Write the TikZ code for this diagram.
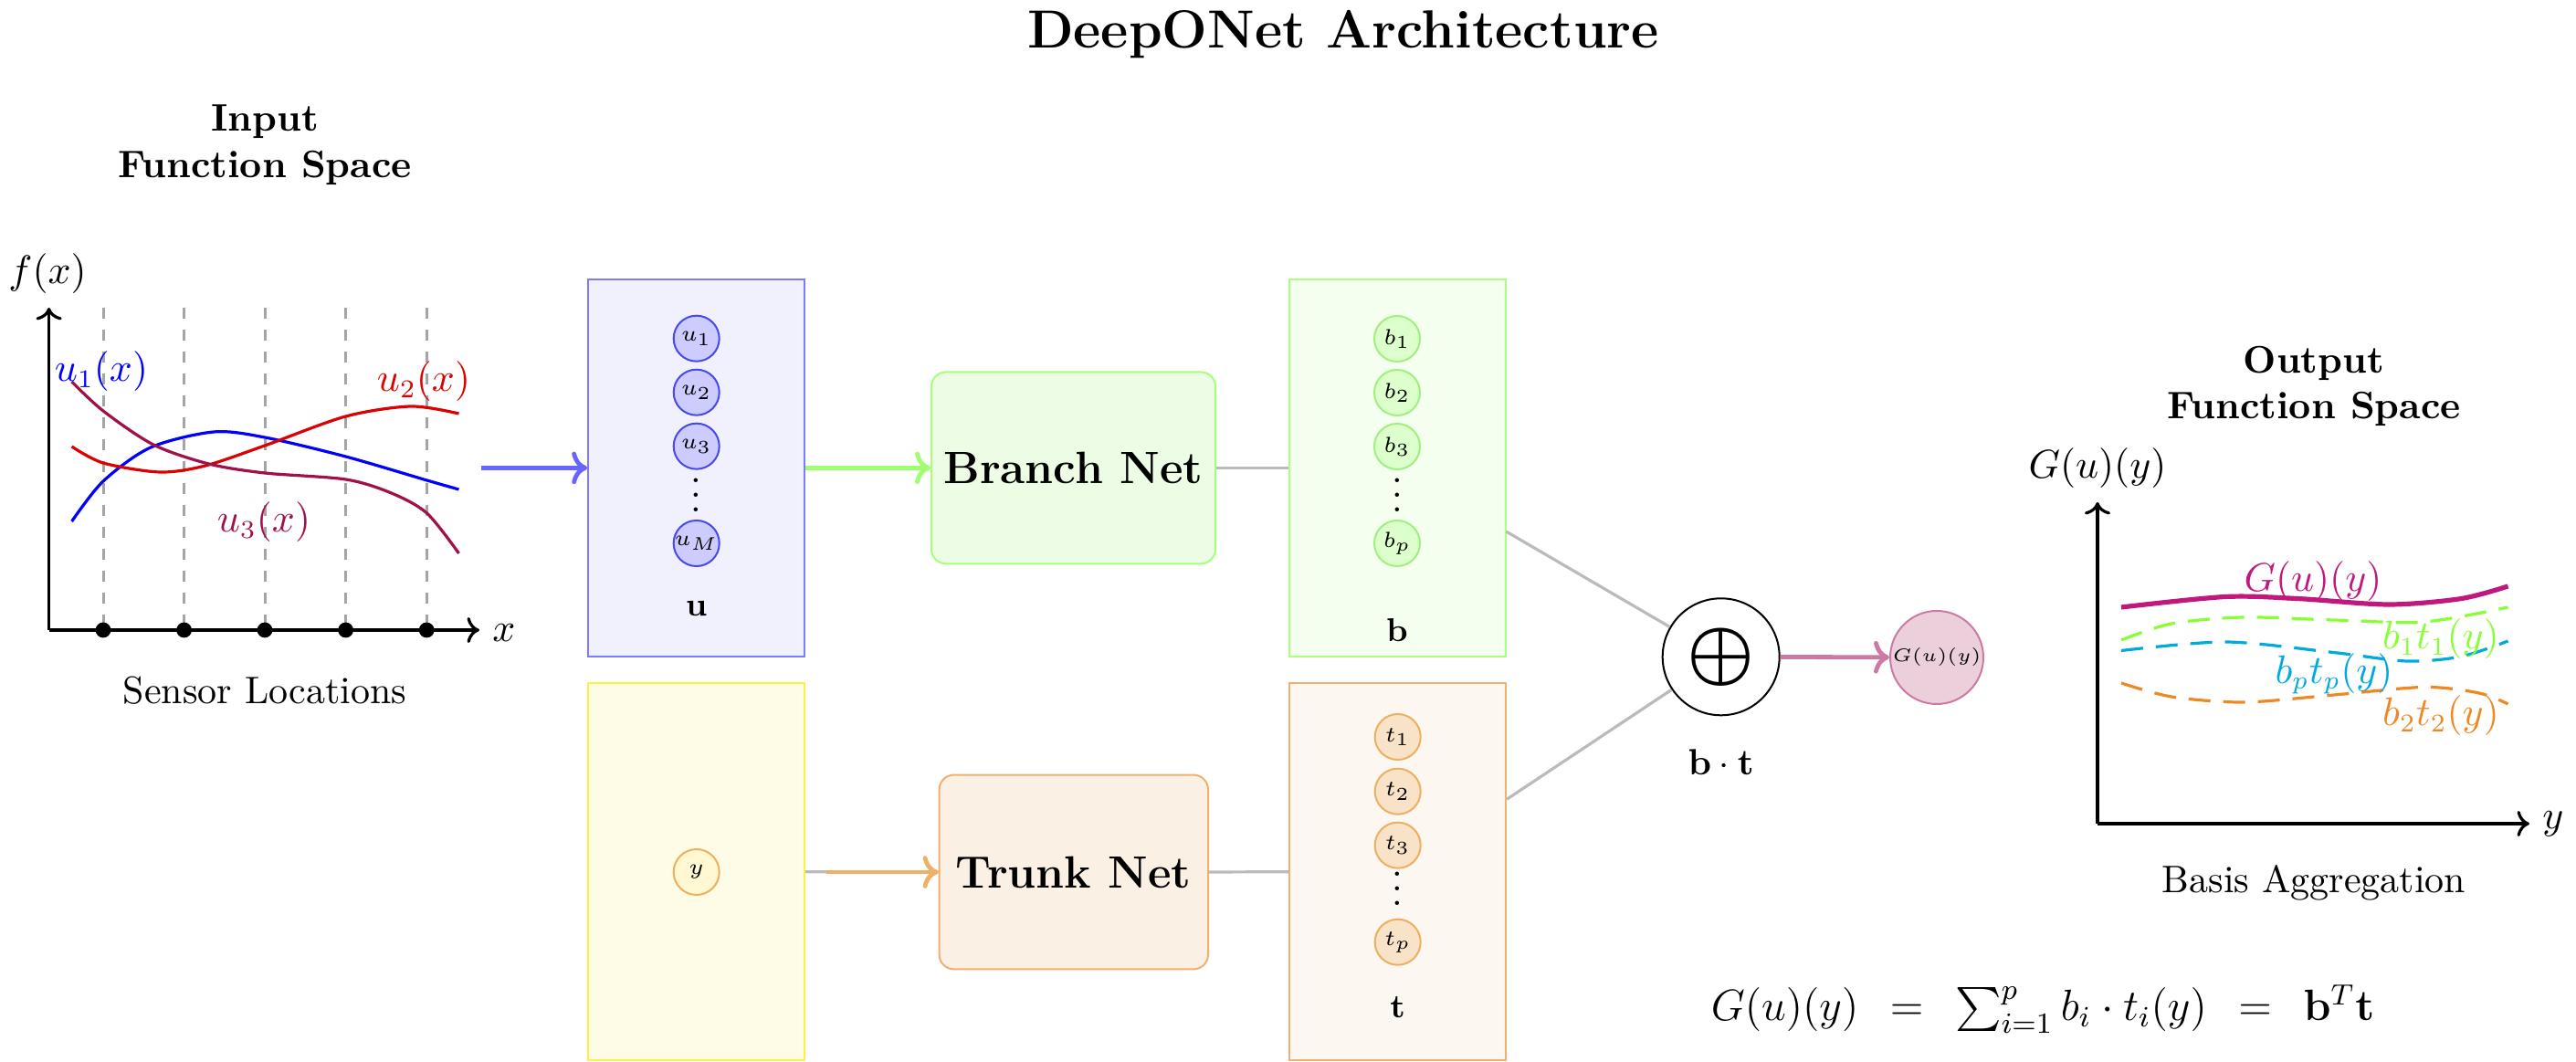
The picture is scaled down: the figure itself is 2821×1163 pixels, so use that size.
\documentclass[tikz,border=0pt]{standalone}
\usepackage{amsmath}
\usetikzlibrary{arrows.meta}
\definecolor{ubord}{HTML}{7B7BFF}
\definecolor{ufill}{HTML}{F1F1FD}
\definecolor{unfill}{HTML}{CCCCFF}
\definecolor{unbord}{HTML}{4848EE}
\definecolor{uarrow}{HTML}{6666FF}
\definecolor{bbord}{HTML}{A8FF80}
\definecolor{bfill}{HTML}{F5FFF0}
\definecolor{bnfill}{HTML}{DDFFCC}
\definecolor{bnbord}{HTML}{A0F080}
\definecolor{brfill}{HTML}{EDFDE5}
\definecolor{brbord}{HTML}{A6FF78}
\definecolor{garrow}{HTML}{A0FF70}
\definecolor{ybord}{HTML}{FFEE44}
\definecolor{yfill}{HTML}{FEFCE6}
\definecolor{ynfill}{HTML}{FFF8D2}
\definecolor{onbord}{HTML}{EEB060}
\definecolor{trfill}{HTML}{FAF0E4}
\definecolor{trbord}{HTML}{F0B070}
\definecolor{oarrow}{HTML}{EEB066}
\definecolor{tfill}{HTML}{FCF7F0}
\definecolor{tnfill}{HTML}{F8E2C8}
\definecolor{gfill}{HTML}{EBD0DC}
\definecolor{gbord}{HTML}{CC7AA4}
\definecolor{linkgray}{HTML}{BBBBBB}
\definecolor{sensgray}{HTML}{A4A4A4}
\definecolor{cblue}{HTML}{0000FF}
\definecolor{cred}{HTML}{DD0000}
\definecolor{cpurple}{HTML}{A0104A}
\definecolor{gmag}{HTML}{C0187C}
\definecolor{glime}{HTML}{88FF33}
\definecolor{gcyan}{HTML}{00AADD}
\definecolor{gorange}{HTML}{EE8822}
\begin{document}
\begin{tikzpicture}[x=0.25pt,y=-0.25pt,
  font=\fontsize{10.5}{12.6}\selectfont,
  vecbox/.style={draw, rectangle, inner sep=0pt, minimum width=59.25pt, minimum height=103.25pt, line width=0.5pt},
  neuron/.style={circle, draw, inner sep=0pt, minimum size=12.5pt, line width=0.5pt, font=\fontsize{6}{7}\selectfont},
  netbox/.style={draw, rounded corners=4pt, inner sep=0pt, minimum height=52.5pt, line width=0.5pt, font=\fontsize{12.4}{15}\selectfont\bfseries},
  link/.style={draw=linkgray, line width=0.8pt},
  flow/.style={->, line width=1.2pt},
  axisline/.style={->, line width=0.8pt},
  fcurve/.style={line width=0.8pt},
  gcurve/.style={line width=0.8pt, dash pattern=on 6pt off 3.5pt},
  veclabel/.style={font=\fontsize{9.5}{11}\selectfont},
  heading/.style={font=\fontsize{10.5}{12.6}\selectfont\bfseries},
]
\useasboundingbox (0,0) rectangle (2821,1163);

% title
\node[font=\fontsize{14.7}{17.5}\selectfont\bfseries] (title) at (1471,38) {DeepONet Architecture};

% ---------- input function space ----------
\node[heading] (inh1) at (290,133) {Input};
\node[heading] (inh2) at (290,183.5) {Function Space};
\foreach \x in {113,201.6,290,378.6,467.2} {
  \draw[sensgray, dashed, line width=0.75pt] (\x,337) -- (\x,690);
}
\coordinate (O1) at (53.6,690);
\coordinate (X1) at (525,690);
\coordinate (Y1) at (53.6,337);
\draw[axisline] (O1) -- (X1);
\draw[axisline] (O1) -- (Y1);
\foreach \x in {113,201.6,290,378.6,467.2} {
  \fill (\x,690) circle[radius=2.1pt];
}
\draw[fcurve, cblue] plot[smooth] coordinates {(78.6,571) (113,527) (165,490) (234,473) (290,479) (378.6,500) (467.5,526) (502.5,536)};
\draw[fcurve, cred] plot[smooth] coordinates {(78.6,489) (113,507) (175,517) (225,510) (290,488) (378.6,456) (450,445) (502.5,453)};
\draw[fcurve, cpurple] plot[smooth] coordinates {(78.6,418) (113,450) (168,487) (228.6,508) (290,518) (378.6,525) (428.6,540) (467.5,562) (502.5,606)};
\node (fx) at (52,300) {$f(x)$};
\node (xl) at (552,693) {$x$};
\node[text=cblue] (lu1) at (111,407) {$u_1(x)$};
\node[text=cred] (lu2) at (464,418) {$u_2(x)$};
\node[text=cpurple] (lu3) at (289,572) {$u_3(x)$};
\node (sens) at (290,756) {Sensor Locations};

% ---------- branch input u ----------
\node[vecbox, draw=ubord, fill=ufill] (ubox) at (762.7,512.4) {};
\node[neuron, draw=unbord, fill=unfill] (u1) at (762.7,370.7) {$u_1$};
\node[neuron, draw=unbord, fill=unfill] (u2) at (762.7,429.7) {$u_2$};
\node[neuron, draw=unbord, fill=unfill] (u3) at (762.7,488.7) {$u_3$};
\node[anchor=base, inner sep=0pt] (udots) at (762.7,561) {$\vdots$};
\node[neuron, draw=unbord, fill=unfill] (uM) at (762.7,595) {$u_M$};
\node[veclabel] (ulab) at (762.7,667) {$\mathbf{u}$};
\coordinate (uin) at (527,512.4);
\draw[flow, uarrow] (uin) -- (ubox.west);

% ---------- branch net ----------
\node[netbox, draw=brbord, fill=brfill, minimum width=77.75pt] (branch) at (1175.5,512.4) {Branch Net};
\draw[flow, garrow] (ubox.east) -- (branch.west);

\node[vecbox, draw=bbord, fill=bfill] (bbox) at (1530,512.4) {};
\node[neuron, draw=bnbord, fill=bnfill] (b1) at (1530,371) {$b_1$};
\node[neuron, draw=bnbord, fill=bnfill] (b2) at (1530,430) {$b_2$};
\node[neuron, draw=bnbord, fill=bnfill] (b3) at (1530,489) {$b_3$};
\node[anchor=base, inner sep=0pt] (bdots) at (1530,561) {$\vdots$};
\node[neuron, draw=bnbord, fill=bnfill] (bp) at (1530,595) {$b_p$};
\node[veclabel] (blab) at (1530,690) {$\mathbf{b}$};
\draw[link] (branch.east) -- (bbox.west);

% ---------- trunk input y ----------
\node[vecbox, draw=ybord, fill=yfill] (ybox) at (762.7,954.7) {};
\node[neuron, draw=onbord, fill=ynfill] (yn) at (762.7,955) {$y$};

\node[netbox, draw=trbord, fill=trfill, minimum width=73.6pt, minimum height=53.2pt] (trunk) at (1175.8,955) {Trunk Net};
\draw[link] (ybox.east) -- (trunk.west);
\coordinate (yin) at (905,955);
\draw[flow, oarrow] (yin) -- (trunk.west);

\node[vecbox, draw=trbord, fill=tfill] (tbox) at (1530.7,954.7) {};
\node[neuron, draw=onbord, fill=tnfill] (t1) at (1530.7,807) {$t_1$};
\node[neuron, draw=onbord, fill=tnfill] (t2) at (1530.7,866.7) {$t_2$};
\node[neuron, draw=onbord, fill=tnfill] (t3) at (1530.7,925.7) {$t_3$};
\node[anchor=base, inner sep=0pt] (tdots) at (1530.7,992) {$\vdots$};
\node[neuron, draw=onbord, fill=tnfill] (tp) at (1530.7,1031.7) {$t_p$};
\node[veclabel] (tlab) at (1530.7,1103) {$\mathbf{t}$};
\draw[link] (trunk.east) -- (tbox.west);

% ---------- combination ----------
\node[circle, draw, fill=white, inner sep=0pt, minimum size=32pt, line width=0.5pt, font=\fontsize{21}{25}\selectfont] (plus) at (1884.7,719.3) {$\boldsymbol{\oplus}$};
\draw[link] (bbox) -- (plus);
\draw[link] (tbox) -- (plus);
\node[veclabel, font=\fontsize{9.8}{12}\selectfont] (btlab) at (1884.7,835) {$\mathbf{b}\cdot\mathbf{t}$};
\node[circle, draw=gbord, fill=gfill, inner sep=0pt, minimum size=25.5pt, line width=0.5pt, font=\tiny] (G) at (2121,720) {$G(u)(y)$};
\draw[flow, gbord] (plus) -- (G);

% ---------- output function space ----------
\node[heading] (outh1) at (2534,398) {Output};
\node[heading] (outh2) at (2534,448) {Function Space};
\coordinate (O2) at (2297,902);
\coordinate (X2) at (2770,902);
\coordinate (Y2) at (2297,550);
\draw[axisline] (O2) -- (X2);
\draw[axisline] (O2) -- (Y2);
\node (gyl) at (2297,512.6) {$G(u)(y)$};
\node (yl) at (2796,902) {$y$};
\draw[gcurve, glime] plot[smooth] coordinates {(2323,701) (2378,683) (2457,676) (2556,679) (2655,681) (2746.5,665)};
\draw[gcurve, gcyan] plot[smooth] coordinates {(2323,712.5) (2437.6,703) (2556,714.6) (2635.6,724) (2695,719) (2746.5,702)};
\draw[gcurve, gorange] plot[smooth] coordinates {(2323,748) (2378,763) (2457,769) (2556,761) (2655,752.5) (2715,759) (2746.5,771)};
\draw[line width=1.3pt, gmag] plot[smooth] coordinates {(2323,665) (2437,653.5) (2517,655.6) (2616,662) (2695,655.6) (2746.5,642)};
\node[text=gmag] (lG) at (2533,637) {$G(u)(y)$};
\node[text=glime] (lb1) at (2673,700) {$b_1t_1(y)$};
\node[text=gcyan] (lbp) at (2556,738) {$b_pt_p(y)$};
\node[text=gorange] (lb2) at (2673,784) {$b_2t_2(y)$};
\node (basis) at (2534,967) {Basis Aggregation};

% ---------- formula ----------
\node[font=\fontsize{12}{14.4}\selectfont] (formula) at (2237,1105) {$G(u)(y)\mkern8mu=\mkern8mu\sum_{i=1}^{p} b_i\cdot t_i(y)\mkern8mu=\mkern8mu\mathbf{b}^T\mathbf{t}$};
\end{tikzpicture}
\end{document}
